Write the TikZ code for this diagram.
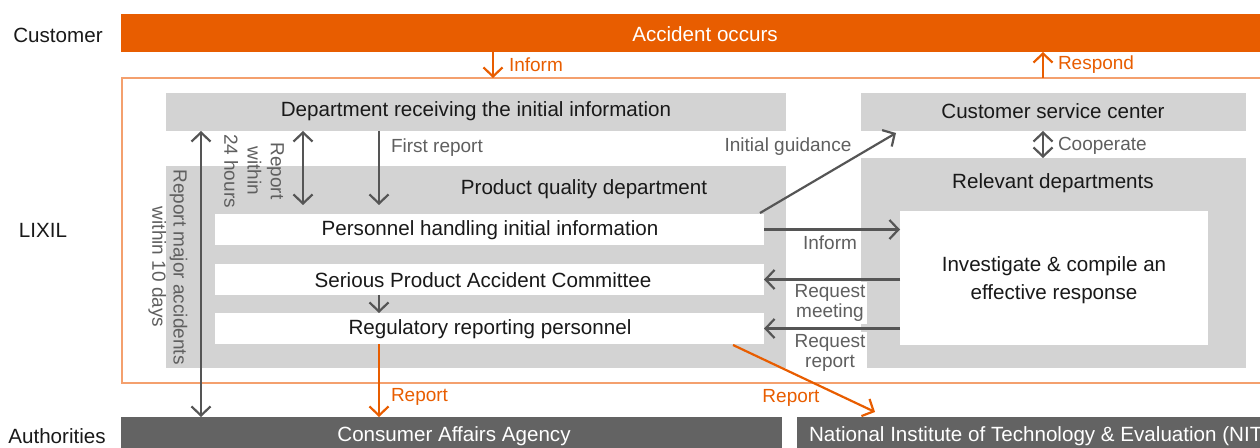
\documentclass[tikz,border=0pt]{standalone}
\usepackage{fontspec}
\setmainfont{Liberation Sans}
\usetikzlibrary{arrows.meta,fit}
\definecolor{orng}{RGB}{232,93,0}
\definecolor{lorng}{RGB}{244,160,110}
\definecolor{lgray}{RGB}{211,211,211}
\definecolor{dgray}{RGB}{99,99,99}
\definecolor{agray}{RGB}{85,85,85}
\definecolor{tgray}{RGB}{95,95,95}
\definecolor{txt}{RGB}{25,25,25}
\begin{document}
\begin{tikzpicture}[x=0.5pt,y=-0.5pt,
  every node/.style={inner sep=0pt, outer sep=0pt},
  boxfont/.style={font=\fontsize{10.3}{13.5}\selectfont, text=txt},
  lblfont/.style={font=\fontsize{9.5}{10}\selectfont},
  graybox/.style={fill=lgray},
  whitebox/.style={fill=white},
  darkbar/.style={fill=dgray},
  sidelbl/.style={boxfont},
  lbl/.style={lblfont, text=tgray},
  olbl/.style={lblfont, text=orng},
  tip/.tip={Straight Barb[length=4.5pt,width=9.5pt]},
  garr/.style={draw=agray, line width=1.1pt, -tip},
  garrb/.style={draw=agray, line width=1.1pt, tip-tip},
  oarr/.style={draw=orng, line width=1.1pt, -tip},
]
\clip (0,0) rectangle (1260,448);
% row labels
\node[sidelbl] (custlbl) at (58,35) {Customer};
\node[sidelbl] (lixlbl) at (43,230) {LIXIL};
\node[sidelbl] (authlbl) at (57,436) {Authorities};
% customer bar
\node[fill=orng, fit={(121,14) (1288,52)}] (acc) {};
\node[boxfont, text=white] (acclbl) at (705,34) {Accident occurs};
% LIXIL outline
\node[draw=lorng, line width=0.8pt, fit={(122,78) (1285,383)}] (lixil) {};
% boxes
\node[graybox, fit={(166,93) (786,131)}] (dept) {};
\node[boxfont] (deptlbl) at (476,111) {Department receiving the initial information};
\node[graybox, fit={(861,93) (1246,131)}] (csc) {};
\node[boxfont] (csclbl) at (1053,111) {Customer service center};
\node[graybox, fit={(861,158) (1246,368)}] (rel) {};
\node[boxfont] (rellbl) at (1053,183) {Relevant departments};
\node[whitebox, fit={(900,211) (1208,345)}] (inv) {};
\node[boxfont, align=center, font=\fontsize{10.3}{14}\selectfont] (invlbl) at (1054,280) {Investigate \& compile an\\effective response};
\node[graybox, fit={(166,166) (786,368)}] (pqd) {};
\node[boxfont] (pqdlbl) at (584,189) {Product quality department};
\node[whitebox, fit={(215,214) (764,245)}] (pers) {};
\node[boxfont] (perslbl) at (490,230) {Personnel handling initial information};
\node[whitebox, fit={(215,264) (764,295)}] (spac) {};
\node[boxfont] (spaclbl) at (483,280) {Serious Product Accident Committee};
\node[whitebox, fit={(215,313) (764,344)}] (reg) {};
\node[boxfont] (reglbl) at (490,329) {Regulatory reporting personnel};
% authority bars
\node[darkbar, fit={(121,417) (782,455)}] (caa) {};
\node[boxfont, text=white] (caalbl) at (454,436) {Consumer Affairs Agency};
\node[darkbar, fit={(797,417) (1292,455)}] (nite) {};
\node[boxfont, text=white, anchor=west] (nitelbl) at (809,436) {National Institute of Technology \& Evaluation (NITE)};
% coordinates
\coordinate (r24end) at (303,205);
\coordinate (frend) at (379,205);
\coordinate (igstart) at (760,213);
\coordinate (igend) at (896,133);
\coordinate (diagstart) at (733,345);
\coordinate (diagend) at (875,412);
% customer arrows
\draw[oarr] (493,0 |- acc.south) -- (493,0 |- lixil.north);
\node[olbl, anchor=west] (informlbl) at (509,65) {Inform};
\draw[oarr] (1043,0 |- lixil.north) -- (1043,0 |- acc.south);
\node[olbl, anchor=west] (respondlbl) at (1058,65) {Respond};
% left arrows
\draw[garrb] (201,0 |- dept.south) -- (201,0 |- caa.north);
\draw[garrb] (303,0 |- dept.south) -- (r24end);
\draw[garr] (379,0 |- dept.south) -- (frend);
\node[lbl, anchor=west] (frlbl) at (391,148) {First report};
\node[lbl, rotate=-90, align=center, font=\fontsize{9.5}{11.6}\selectfont] (r24lbl) at (254,171) {Report\\within\\24 hours};
\node[lbl, rotate=-90, align=center, font=\fontsize{9.5}{10.6}\selectfont] (r10lbl) at (168,267) {Report major accidents\\within 10 days};
\draw[garr] (spac.south -| 379,0) -- (reg.north -| 379,0);
\draw[oarr] (reg.south -| 379,0) -- (caa.north -| 379,0);
\node[olbl, anchor=west] (rep1lbl) at (391,397) {Report};
% middle arrows
\draw[garr] (igstart) -- (igend);
\node[lbl] (iglbl) at (788,147) {Initial guidance};
\draw[garrb] (1043,0 |- csc.south) -- (1043,0 |- rel.north);
\node[lbl, anchor=west] (cooplbl) at (1058,146) {Cooperate};
\draw[garr] (pers.east) -- (pers.east -| inv.west);
\node[lbl] (inflbl) at (830,243) {Inform};
\draw[garr] (spac.east -| inv.west) -- (spac.east);
\node[lbl, align=center, fill=white, inner sep=1pt] (rmlbl) at (830,303) {Request\\meeting};
\draw[garr] (reg.east -| inv.west) -- (reg.east);
\node[lbl, align=center, fill=white, inner sep=1pt] (rrlbl) at (830,353) {Request\\report};
\draw[oarr] (diagstart) -- (diagend);
\node[olbl] (rep2lbl) at (791,398) {Report};
\end{tikzpicture}
\end{document}
